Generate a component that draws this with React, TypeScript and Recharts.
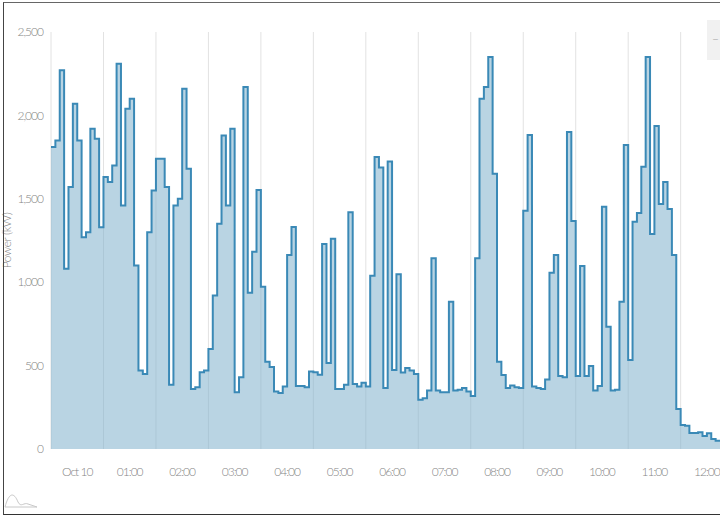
import { Area, AreaChart, CartesianGrid, XAxis, YAxis } from 'recharts';

const powerKw = [
  1810, 1850, 2270, 1080, 1570, 2070, 1850, 1270, 1300, 1920, 1860, 1330,
  1630, 1600, 1700, 2310, 1460, 2040, 2100, 1100, 470, 450, 1300, 1550,
  1740, 1740, 1570, 385, 1460, 1500, 2160, 1680, 360, 370, 460, 470,
  600, 920, 1350, 1880, 1460, 1920, 340, 430, 2170, 937, 1183, 1553,
  973, 523, 491, 344, 335, 374, 1163, 1331, 378, 378, 370, 465,
  460, 445, 1229, 515, 1261, 360, 360, 385, 1420, 390, 375, 397,
  375, 1039, 1750, 1687, 365, 1724, 473, 1048, 458, 485, 470, 450,
  295, 305, 350, 1143, 350, 340, 340, 883, 350, 355, 365, 345,
  317, 1143, 2100, 2170, 2350, 1650, 523, 443, 365, 380, 370, 365,
  1428, 1882, 375, 365, 360, 417, 1057, 1163, 437, 430, 1900, 1367,
  437, 1097, 437, 497, 350, 378, 1453, 733, 350, 355, 883, 1823,
  534, 1363, 1415, 1692, 2350, 1289, 1936, 1469, 1600, 1439, 1163, 240,
  144, 140, 96, 96, 100, 78, 94, 60, 50,
];

const hourLabels = ['Oct 10', '01:00', '02:00', '03:00', '04:00', '05:00', '06:00', '07:00', '08:00', '09:00', '10:00', '11:00', '12:00'];
const hourLabelSlots = [6, 18, 30, 42, 54, 66, 78, 90, 102, 114, 126, 138, 150];
const hourGridSlots = [0, 12, 24, 36, 48, 60, 72, 84, 96, 108, 120, 132, 144];
const powerTicks = [0, 500, 1000, 1500, 2000, 2500];

// one extra point so the last step runs out to the right edge
const chartData = [...powerKw, powerKw[powerKw.length - 1]].map((power, slot) => ({ slot, power }));

const tickStyle = { fill: '#858585', fontSize: 12, fontFamily: 'Lato', fontWeight: 300, letterSpacing: -1 };

const formatHour = (slot: number) => hourLabels[hourLabelSlots.indexOf(slot)] ?? '';
const formatPower = (value: number) => value.toLocaleString('en-US');

export default function App() {
  return (
    <div style={{ position: 'absolute', left: 0, top: 0, width: 720, height: 516, background: '#fff', overflow: 'hidden' }}>
      <AreaChart width={720} height={516} data={chartData} margin={{ top: 32, right: 0, bottom: 0, left: 0 }}>
        <CartesianGrid vertical horizontal={false} verticalValues={hourGridSlots} stroke="#e2e2e2" syncWithTicks={false} />
        <XAxis
          dataKey="slot"
          type="number"
          domain={[0, powerKw.length]}
          ticks={hourLabelSlots}
          tickFormatter={formatHour}
          interval={0}
          axisLine={false}
          tickLine={false}
          tick={tickStyle}
          tickMargin={12}
          height={67}
        />
        <YAxis
          domain={[0, 2500]}
          ticks={powerTicks}
          tickFormatter={formatPower}
          axisLine={false}
          tickLine={false}
          tick={tickStyle}
          tickMargin={2}
          width={51}
          label={{ value: 'Power (kW)', angle: -90, position: 'insideLeft', offset: 0, dx: 7, dy: 0, style: { ...tickStyle, letterSpacing: -0.4, textAnchor: 'middle' } }}
        />
        <Area
          type="stepAfter"
          dataKey="power"
          stroke="#3a89b6"
          strokeWidth={2}
          fill="#7fb0cc"
          fillOpacity={0.55}
          dot={false}
          activeDot={false}
          isAnimationActive={false}
        />
      </AreaChart>
      {/* zoom toolbar stub, top right */}
      <div style={{ position: 'absolute', left: 707, top: 20, width: 13, height: 40, background: '#f1f1f1', color: '#bbb', fontFamily: 'Lato', fontSize: 12, lineHeight: '38px', paddingLeft: 5, boxSizing: 'border-box' }}>–</div>
      {/* navigator thumbnail, bottom left */}
      <svg style={{ position: 'absolute', left: 4, top: 490 }} width={34} height={20}>
        <path d="M1 17 C5 2 10 2 14 12 C17 18 20 12 24 14 L33 17 L1 17" fill="none" stroke="#c8c8c8" strokeWidth={1} />
      </svg>
      {/* screenshot frame */}
      <div style={{ position: 'absolute', left: 3, top: 2, width: 720, height: 513, borderLeft: '1px solid #444', borderTop: '1px solid #666', borderBottom: '1px solid #333', boxSizing: 'border-box' }} />
    </div>
  );
}
